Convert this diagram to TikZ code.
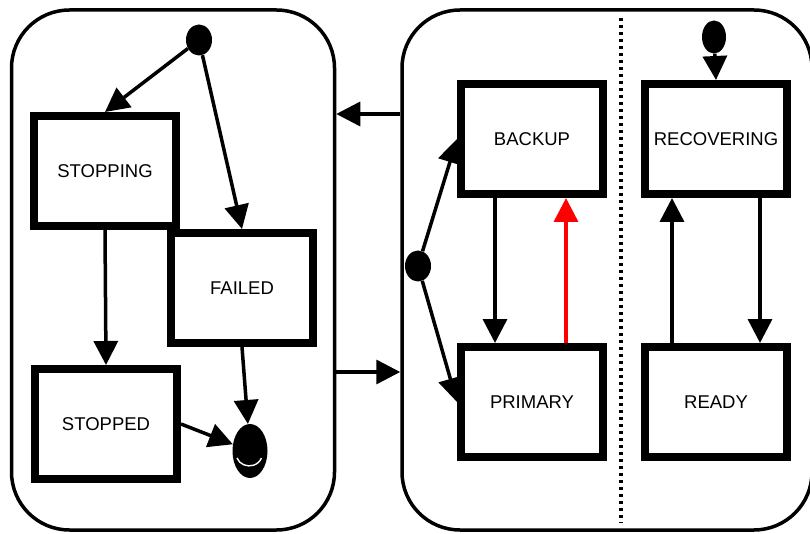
\documentclass[tikz,border=0pt]{standalone}
\usepackage{fontspec}
\setmainfont{Liberation Sans}
\usetikzlibrary{arrows.meta,shapes.geometric,positioning}

\tikzset{
	statebox/.style={draw,line width=8pt,minimum width=142pt,minimum height=110pt,inner sep=0pt,font=\fontsize{18.5}{22}\selectfont},
	region/.style={draw,line width=3.5pt,rounded corners=58pt,inner sep=0pt},
	dot/.style={ellipse,fill=black,inner sep=0pt,minimum width=26pt,minimum height=31pt},
	arr/.style={line width=3.5pt,-{Triangle[length=24pt,width=24pt]}}
}

\begin{document}
\begin{tikzpicture}[x=1pt,y=-1pt]
		\useasboundingbox (0,0) rectangle (810,534);
		\clip (0,0) rectangle (810,534);
		% the two regions
		\node[region,minimum width=323pt,minimum height=520pt] (left) at (173,270) {};
		\node[region,minimum width=410pt,minimum height=520pt] (right) at (607,270) {};
		\coordinate (up) at (0,114);
		\coordinate (lo) at (0,372);
		% left side
		\node[dot] (i1) at (199,40) {};
		\node[statebox] (stp) at (105,171) {STOPPING};
		\node[statebox] (fl) at (242,288) {FAILED};
		\node[statebox] (spd) at (106,424) {STOPPED};
		\node[ellipse,fill=black,inner sep=0pt,minimum width=35pt,minimum height=54pt] (fin) at (250,451) {};
		\draw[white,line width=1.4pt] (237,458) arc[start angle=200,end angle=340,x radius=13pt,y radius=12pt];
		% right side
		\node[dot] (mid) at (418,266) {};
		\node[statebox] (bk) at (532,139) {BACKUP};
		\node[statebox] (pr) at (532,402) {PRIMARY};
		\node[dot,minimum width=24pt,minimum height=33pt] (i2) at (714,37) {};
		\node[statebox] (rc) at (716,139) {RECOVERING};
		\node[statebox] (rd) at (716,402) {READY};
		\draw[line width=3.2pt,dash pattern=on 3.2pt off 3.8pt] (621,18) -- (621,523);
		% transitions
		\draw[arr] (i1) -- (stp.north);
		\draw[arr] (i1) -- (fl.north);
		\draw[arr] (stp.south) -- (spd.north);
		\draw[arr] (fl.south) -- (fin);
		\draw[arr] (spd.east) -- (fin);
		\draw[arr] (right.west |- up) -- (left.east |- up);
		\draw[arr] (left.east |- lo) -- (right.west |- lo);
		\draw[arr] (mid) -- (bk.west);
		\draw[arr] (mid) -- (pr.west);
		\draw[arr] ([xshift=-37pt]bk.south) -- ([xshift=-37pt]pr.north);
		\draw[arr,red] ([xshift=34pt]pr.north) -- ([xshift=34pt]bk.south);
		\draw[arr] (i2) -- (rc.north);
		\draw[arr] ([xshift=44pt]rc.south) -- ([xshift=44pt]rd.north);
		\draw[arr] ([xshift=-44pt]rd.north) -- ([xshift=-44pt]rc.south);
	\end{tikzpicture}
\end{document}
